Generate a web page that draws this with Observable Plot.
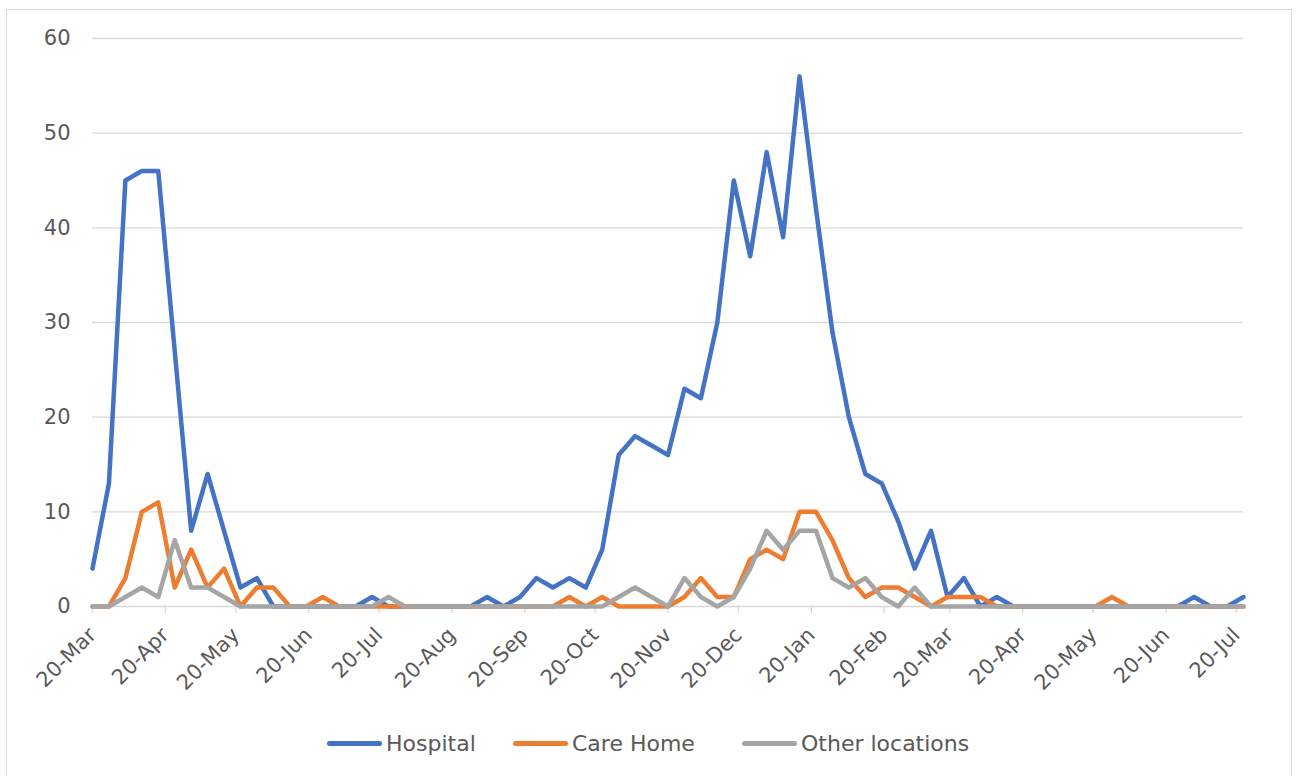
<!DOCTYPE html>
<html>
<head>
<meta charset="utf-8">
<script src="https://cdn.jsdelivr.net/npm/d3@7"></script>
<script src="https://cdn.jsdelivr.net/npm/@observablehq/plot@0.6"></script>
<style>
  html, body { margin: 0; padding: 0; background: #fff; width: 1297px; height: 776px; overflow: hidden; }
  body { position: relative; font-family: 'Century Gothic', 'DejaVu Sans', sans-serif; }
  #frame { position: absolute; left: 6px; top: 9px; width: 1286px; height: 800px; border: 1.5px solid #d9d9d9; box-sizing: border-box; }
  #chart { position: absolute; left: 0; top: 0; }
  .item { position: absolute; top: 728px; height: 30px; display: flex; align-items: center; font-size: 22px; color: #595959; white-space: nowrap; }
  .sw { display: inline-block; width: 55px; height: 5px; border-radius: 3px; margin-right: 4px; }
</style>
</head>
<body>
<div id="frame"></div>
<div id="chart"></div>
<script>
// ---- data ----
const seriesNames = ["Hospital", "Care Home", "Other locations"];
const seriesColors = ["#4472C4", "#ED7D31", "#A5A5A5"];
const firstWeek = "2020-03-20"; // weekly points, 7 days apart
const hospital = [4, 13, 45, 46, 46, 27, 8, 14, 8, 2, 3, 0, 0, 0, 0, 0, 0, 1, 0, 0, 0, 0, 0, 0, 1, 0, 1, 3, 2, 3, 2, 6, 16, 18, 17, 16, 23, 22, 30, 45, 37, 48, 39, 56, 42, 29, 20, 14, 13, 9, 4, 8, 1, 3, 0, 1, 0, 0, 0, 0, 0, 0, 0, 0, 0, 0, 0, 1, 0, 0, 1];
const careHome = [0, 0, 3, 10, 11, 2, 6, 2, 4, 0, 2, 2, 0, 0, 1, 0, 0, 0, 0, 0, 0, 0, 0, 0, 0, 0, 0, 0, 0, 1, 0, 1, 0, 0, 0, 0, 1, 3, 1, 1, 5, 6, 5, 10, 10, 7, 3, 1, 2, 2, 1, 0, 1, 1, 1, 0, 0, 0, 0, 0, 0, 0, 1, 0, 0, 0, 0, 0, 0, 0, 0];
const otherLocations = [0, 0, 1, 2, 1, 7, 2, 2, 1, 0, 0, 0, 0, 0, 0, 0, 0, 0, 1, 0, 0, 0, 0, 0, 0, 0, 0, 0, 0, 0, 0, 0, 1, 2, 1, 0, 3, 1, 0, 1, 4, 8, 6, 8, 8, 3, 2, 3, 1, 0, 2, 0, 0, 0, 0, 0, 0, 0, 0, 0, 0, 0, 0, 0, 0, 0, 0, 0, 0, 0, 0];
const xTickDates = ["2020-03-20", "2020-04-20", "2020-05-20", "2020-06-20", "2020-07-20", "2020-08-20", "2020-09-20", "2020-10-20", "2020-11-20", "2020-12-20", "2021-01-20", "2021-02-20", "2021-03-20", "2021-04-20", "2021-05-20", "2021-06-20", "2021-07-20"];
const yTicks = [0, 10, 20, 30, 40, 50, 60];

// ---- build table ----
const start = new Date(firstWeek + "T00:00:00Z");
const weeks = hospital.map((_, i) => d3.utcDay.offset(start, 7 * i));
const seriesValues = [hospital, careHome, otherLocations];
const rows = [];
seriesNames.forEach((name, s) => {
  seriesValues[s].forEach((v, i) => rows.push({date: weeks[i], value: v, series: name}));
});
const tickDates = xTickDates.map(s => new Date(s + "T00:00:00Z"));
const fmt = d3.utcFormat("%d-%b");

const chart = Plot.plot({
  width: 1297,
  height: 700,
  marginLeft: 92,
  marginRight: 54,
  marginTop: 38,
  marginBottom: 94,
  style: {fontFamily: "'Century Gothic', 'DejaVu Sans', sans-serif", fontSize: "21px", color: "#595959", background: "transparent"},
  x: {type: "utc", domain: [weeks[0], weeks[weeks.length - 1]]},
  y: {domain: [0, 60]},
  color: {domain: seriesNames, range: seriesColors},
  marks: [
    Plot.gridY(yTicks.filter(d => d > 0), {stroke: "#d9d9d9", strokeOpacity: 1, strokeWidth: 1.3}),
    Plot.ruleY([0], {stroke: "#d9d9d9", strokeWidth: 1.5}),
    Plot.axisY({ticks: yTicks, tickSize: 0, tickPadding: 22, fill: "#595959", fontSize: 21, label: null}),
    Plot.axisX({ticks: tickDates, tickSize: 7, stroke: "#d9d9d9", strokeWidth: 1.3, fill: "none", label: null}),
    Plot.axisX({ticks: tickDates, tickFormat: fmt, tickSize: 0, tickPadding: 25, tickRotate: -45, fill: "#595959", fontSize: 21, label: null}),
    Plot.line(rows, {x: "date", y: "value", z: "series", stroke: "series", strokeWidth: 4.5, strokeLinejoin: "round", strokeLinecap: "round"})
  ]
});
document.getElementById("chart").appendChild(chart);

// ---- legend ----
const legendLeft = [327, 513, 742];
seriesNames.forEach((name, i) => {
  const item = document.createElement("div");
  item.className = "item";
  item.style.left = legendLeft[i] + "px";
  const sw = document.createElement("span");
  sw.className = "sw";
  sw.style.background = seriesColors[i];
  item.appendChild(sw);
  item.appendChild(document.createTextNode(name));
  document.body.appendChild(item);
});
</script>
</body>
</html>
